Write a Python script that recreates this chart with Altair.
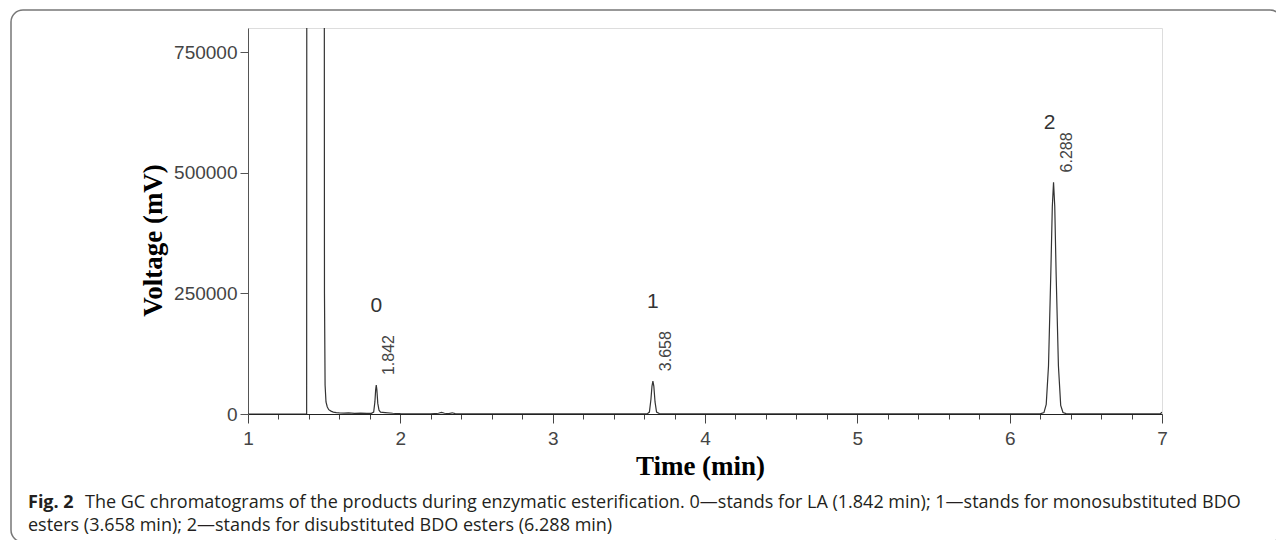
import altair as alt
import pandas as pd

# ---- chromatogram trace ----
time_min = [1.00, 1.385, 1.387, 1.499, 1.502, 1.506, 1.512, 1.52, 1.53, 1.545, 1.56, 1.58,
            1.60, 1.63, 1.66, 1.70, 1.74, 1.78, 1.81, 1.825, 1.833, 1.838, 1.842, 1.846,
            1.852, 1.86, 1.87, 1.90, 1.95, 2.00, 2.10, 2.20, 2.25, 2.27, 2.29, 2.32, 2.34,
            2.36, 2.50, 3.00, 3.50, 3.62, 3.635, 3.645, 3.652, 3.658, 3.664, 3.672, 3.682,
            3.70, 3.75, 4.00, 5.00, 6.00, 6.20, 6.225, 6.24, 6.255, 6.27, 6.28, 6.288,
            6.296, 6.305, 6.32, 6.335, 6.35, 6.37, 6.40, 6.50, 6.95, 6.99, 7.00]
voltage_mv = [0, 0, 2000000, 2000000, 250000, 60000, 25000, 15000, 9000, 6000, 4000, 3000,
              2500, 2000, 2500, 1500, 2000, 1500, 1500, 4000, 25000, 50000, 60000, 50000,
              22000, 8000, 4000, 3000, 1500, 800, 500, 500, 1500, 3500, 1500, 1000, 2500,
              800, 300, 200, 200, 300, 4000, 30000, 58000, 68000, 58000, 25000, 4000,
              1000, 300, 200, 200, 200, 200, 3000, 20000, 100000, 290000, 430000, 480000,
              430000, 290000, 100000, 18000, 3000, 800, 300, 200, 200, 500, 4000]

# ---- peaks ----
peak_ids = ["0", "1", "2"]
peak_times = [1.842, 3.658, 6.288]
peak_heights = [60000, 68000, 480000]
peak_rt_labels = ["1.842", "3.658", "6.288"]

# ---- axes ----
x_tick_values = [1.0, 1.2, 1.4, 1.6, 1.8, 2.0, 2.2, 2.4, 2.6, 2.8, 3.0, 3.2, 3.4, 3.6, 3.8,
                 4.0, 4.2, 4.4, 4.6, 4.8, 5.0, 5.2, 5.4, 5.6, 5.8, 6.0, 6.2, 6.4, 6.6, 6.8, 7.0]
y_tick_values = [0, 250000, 500000, 750000]
x_title = "Time (min)"
y_title = "Voltage (mV)"

# ---- caption ----
caption_bold = "Fig. 2"
caption_line1 = ("The GC chromatograms of the products during enzymatic esterification. "
                 "0\u2014stands for LA (1.842 min); 1\u2014stands for monosubstituted BDO")
caption_line2 = "esters (3.658 min); 2\u2014stands for disubstituted BDO esters (6.288 min)"

W, H = 914, 386

trace = pd.DataFrame({"t": time_min, "v": voltage_mv})
peaks = pd.DataFrame({"id": peak_ids, "t": peak_times, "v": peak_heights, "rt": peak_rt_labels})

major = "abs(datum.value - round(datum.value)) < 0.001"

x_enc = alt.X(
    "t:Q",
    scale=alt.Scale(domain=[1, 7], nice=False, zero=False),
    axis=alt.Axis(
        values=x_tick_values,
        labelExpr=f"{major} ? format(datum.value, 'd') : ''",
        labelOverlap=False,
        labelFlush=False,
        tickSize={"condition": {"test": major, "value": 9}, "value": 5},
        tickColor="#444",
        domainColor="#222",
        labelFont="Liberation Sans",
        labelFontSize=19,
        labelColor="#444",
        labelPadding=6,
        grid=False,
        title=x_title,
        titleFont="Liberation Serif",
        titleFontSize=27,
        titleFontWeight="bold",
        titleColor="#000",
        titleX=452,
        titleY=52,
        titleBaseline="middle",
    ),
)
y_enc = alt.Y(
    "v:Q",
    scale=alt.Scale(domain=[0, 800000], nice=False),
    axis=alt.Axis(
        values=y_tick_values,
        format="d",
        tickSize=8,
        tickColor="#555",
        domainColor="#555",
        labelFont="Liberation Sans",
        labelFontSize=19,
        labelColor="#444",
        labelPadding=3,
        grid=False,
        title=y_title,
        titleFont="Liberation Serif",
        titleFontSize=27,
        titleFontWeight="bold",
        titleColor="#000",
        titleAngle=270,
        titleX=-95,
        titleY=212,
        titleBaseline="middle",
        titleAlign="center",
    ),
)

line = alt.Chart(trace).mark_line(clip=True, color="#333", strokeWidth=1.2).encode(x=x_enc, y=y_enc)

rt_text = alt.Chart(peaks).mark_text(
    angle=270, align="left", baseline="middle", dx=10, dy=13,
    font="Liberation Sans", fontSize=16, color="#444"
).encode(x=x_enc, y=y_enc, text="rt:N")

id_text_low = alt.Chart(peaks).transform_filter("datum.id != '2'").mark_text(
    align="center", baseline="middle", dy=-79,
    font="Liberation Sans", fontSize=21, color="#333"
).encode(x=x_enc, y=y_enc, text="id:N")

id_text_high = alt.Chart(peaks).transform_filter("datum.id == '2'").mark_text(
    align="center", baseline="middle", dy=-59, dx=-4,
    font="Liberation Sans", fontSize=21, color="#333"
).encode(x=x_enc, y=y_enc, text="id:N")

one = pd.DataFrame({"k": [0]})

border = alt.Chart(one).mark_rect(
    filled=False, stroke="#777", strokeWidth=1.5, cornerRadius=12, clip=False
).encode(x=alt.value(-237), x2=alt.value(1034), y=alt.value(-18), y2=alt.value(514))

cap_bold = alt.Chart(one).mark_text(
    align="left", baseline="alphabetic", font="Open Sans", fontWeight="bold",
    fontSize=18, color="#231f20"
).encode(x=alt.value(-220), y=alt.value(480), text=alt.value(caption_bold))

cap1 = alt.Chart(one).mark_text(
    align="left", baseline="alphabetic", font="Open Sans",
    fontSize=18, color="#231f20"
).encode(x=alt.value(-163), y=alt.value(480), text=alt.value(caption_line1))

cap2 = alt.Chart(one).mark_text(
    align="left", baseline="alphabetic", font="Open Sans",
    fontSize=18, color="#231f20"
).encode(x=alt.value(-220), y=alt.value(503), text=alt.value(caption_line2))

chart = alt.layer(line, rt_text, id_text_low, id_text_high, border, cap_bold, cap1, cap2).properties(
    width=W, height=H,
    autosize=alt.AutoSizeParams(type="none"),
    padding={"left": 240, "top": 20, "right": 114, "bottom": 126},
).configure_view(stroke="#666", strokeWidth=1).configure(background="white")

chart.save("out.html", embed_options={"renderer": "svg", "actions": False})
